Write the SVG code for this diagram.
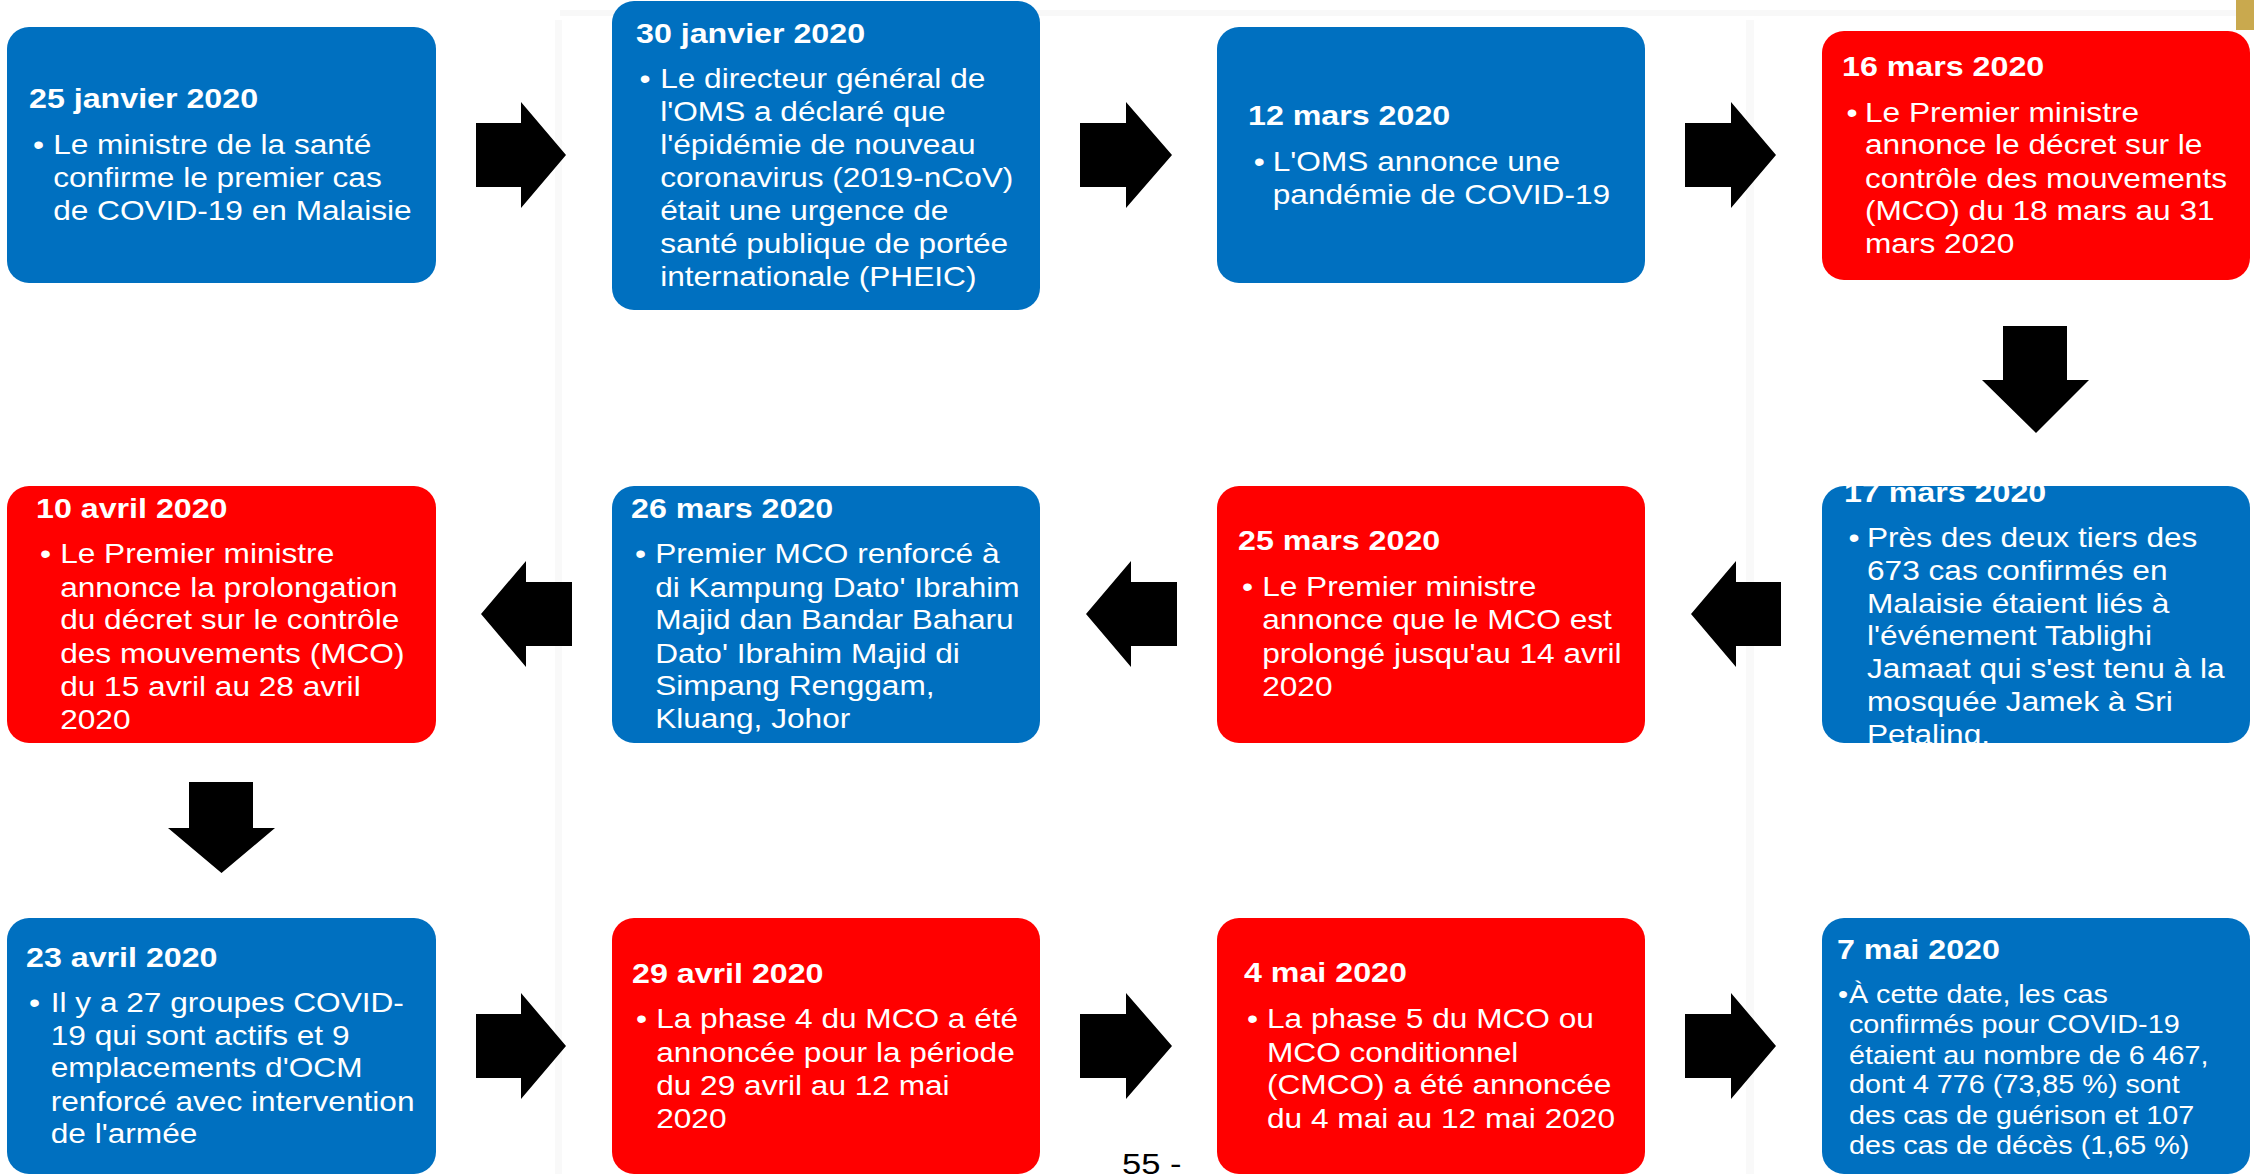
<svg xmlns="http://www.w3.org/2000/svg" width="2254" height="1174" viewBox="0 0 2254 1174">
<style>
.blue{fill:#0070C0}
.red{fill:#FF0000}
.t{font-family:"Liberation Sans",Arial,sans-serif;font-weight:bold;font-size:28px;fill:#fff}
.b{font-family:"Liberation Sans",Arial,sans-serif;font-size:27.5px;fill:#fff}
.s{font-family:"Liberation Sans",Arial,sans-serif;font-size:25px;fill:#fff}
.arrow{fill:#000}
.pg{font-family:"Liberation Sans",Arial,sans-serif;font-size:30px;fill:#000}
</style>
<rect x="0" y="0" width="2254" height="1174" fill="#fff"/>
<g id="background">
<rect x="555" y="20" width="7" height="1154" fill="#f9f9f9"/>
<rect x="1746" y="20" width="8" height="1154" fill="#f9f9f9"/>
<rect x="560" y="10" width="1680" height="6" fill="#f8f8f8"/>
<rect x="2236" y="0" width="18" height="30" fill="#c9a94e"/>
</g>

<g id="connectors">
<polygon class="arrow" points="476,123 521,123 521,102 566,155 521,208 521,187 476,187"/>
<polygon class="arrow" points="1080,123 1126,123 1126,102 1172,155 1126,208 1126,187 1080,187"/>
<polygon class="arrow" points="1685,123 1731,123 1731,102 1776,155 1731,208 1731,187 1685,187"/>
<polygon class="arrow" points="2003,326 2067,326 2067,380 2089,380 2036,433 1982,380 2003,380"/>
<polygon class="arrow" points="1781,582 1736,582 1736,561 1691,614 1736,667 1736,646 1781,646"/>
<polygon class="arrow" points="1177,582 1131,582 1131,561 1086,614 1131,667 1131,646 1177,646"/>
<polygon class="arrow" points="572,582 526,582 526,561 481,614 526,667 526,646 572,646"/>
<polygon class="arrow" points="189,782 253,782 253,828 275,828 221.5,873 168,828 189,828"/>
<polygon class="arrow" points="476,1014 521,1014 521,993 566,1046 521,1099 521,1078 476,1078"/>
<polygon class="arrow" points="1080,1014 1126,1014 1126,993 1172,1046 1126,1099 1126,1078 1080,1078"/>
<polygon class="arrow" points="1685,1014 1731,1014 1731,993 1776,1046 1731,1099 1731,1078 1685,1078"/>
</g>

<g id="n1">
<rect class="blue" x="7" y="27" width="429" height="256" rx="22"/>
<g transform="translate(29,0) scale(1.15,1)">
<text class="t" x="0" y="108">25 janvier 2020</text>
<text class="b" x="3.5" y="154">•</text>
<text class="b" x="21" y="154">Le ministre de la santé</text>
<text class="b" x="21" y="187">confirme le premier cas</text>
<text class="b" x="21" y="220">de COVID-19 en Malaisie</text>
</g>
</g>

<g id="n2">
<rect class="blue" x="612" y="1" width="428" height="309" rx="22"/>
<g transform="translate(636,0) scale(1.15,1)">
<text class="t" x="0" y="43">30 janvier 2020</text>
<text class="b" x="3" y="88">•</text>
<text class="b" x="21" y="88">Le directeur général de</text>
<text class="b" x="21" y="121">l'OMS a déclaré que</text>
<text class="b" x="21" y="154">l'épidémie de nouveau</text>
<text class="b" x="21" y="187">coronavirus (2019-nCoV)</text>
<text class="b" x="21" y="220">était une urgence de</text>
<text class="b" x="21" y="253">santé publique de portée</text>
<text class="b" x="21" y="286">internationale (PHEIC)</text>
</g>
</g>

<g id="n3">
<rect class="blue" x="1217" y="27" width="428" height="256" rx="22"/>
<g transform="translate(1248,0) scale(1.15,1)">
<text class="t" x="0" y="125">12 mars 2020</text>
<text class="b" x="5" y="171">•</text>
<text class="b" x="21.5" y="171">L'OMS annonce une</text>
<text class="b" x="21.5" y="204">pandémie de COVID-19</text>
</g>
</g>

<g id="n4">
<rect class="red" x="1822" y="31" width="428" height="249" rx="22"/>
<g transform="translate(1842,0) scale(1.15,1)">
<text class="t" x="0" y="76">16 mars 2020</text>
<text class="b" x="4" y="122">•</text>
<text class="b" x="20" y="122">Le Premier ministre</text>
<text class="b" x="20" y="154">annonce le décret sur le</text>
<text class="b" x="20" y="188">contrôle des mouvements</text>
<text class="b" x="20" y="220">(MCO) du 18 mars au 31</text>
<text class="b" x="20" y="253">mars 2020</text>
</g>
</g>

<g id="n5">
<rect class="blue" x="1822" y="486" width="428" height="257" rx="22"/>
<g transform="translate(1844,0) scale(1.15,1)">
<text class="t" x="0" y="502">17 mars 2020</text>
<text class="b" x="4" y="547">•</text>
<text class="b" x="20" y="547">Près des deux tiers des</text>
<text class="b" x="20" y="580">673 cas confirmés en</text>
<text class="b" x="20" y="613">Malaisie étaient liés à</text>
<text class="b" x="20" y="645">l'événement Tablighi</text>
<text class="b" x="20" y="678">Jamaat qui s'est tenu à la</text>
<text class="b" x="20" y="711">mosquée Jamek à Sri</text>
<text class="b" x="20" y="744">Petaling.</text>
</g>
</g>

<g id="n6">
<rect class="red" x="1217" y="486" width="428" height="257" rx="22"/>
<g transform="translate(1238,0) scale(1.15,1)">
<text class="t" x="0" y="550">25 mars 2020</text>
<text class="b" x="3.5" y="596">•</text>
<text class="b" x="21" y="596">Le Premier ministre</text>
<text class="b" x="21" y="629">annonce que le MCO est</text>
<text class="b" x="21" y="663">prolongé jusqu'au 14 avril</text>
<text class="b" x="21" y="696">2020</text>
</g>
</g>

<g id="n7">
<rect class="blue" x="612" y="486" width="428" height="257" rx="22"/>
<g transform="translate(631,0) scale(1.15,1)">
<text class="t" x="0" y="518">26 mars 2020</text>
<text class="b" x="3.5" y="563">•</text>
<text class="b" x="21" y="563">Premier MCO renforcé à</text>
<text class="b" x="21" y="597">di Kampung Dato' Ibrahim</text>
<text class="b" x="21" y="629">Majid dan Bandar Baharu</text>
<text class="b" x="21" y="663">Dato' Ibrahim Majid di</text>
<text class="b" x="21" y="695">Simpang Renggam,</text>
<text class="b" x="21" y="728">Kluang, Johor</text>
</g>
</g>

<g id="n8">
<rect class="red" x="7" y="486" width="429" height="257" rx="22"/>
<g transform="translate(36,0) scale(1.15,1)">
<text class="t" x="0" y="518">10 avril 2020</text>
<text class="b" x="3.5" y="563">•</text>
<text class="b" x="21" y="563">Le Premier ministre</text>
<text class="b" x="21" y="597">annonce la prolongation</text>
<text class="b" x="21" y="629">du décret sur le contrôle</text>
<text class="b" x="21" y="663">des mouvements (MCO)</text>
<text class="b" x="21" y="696">du 15 avril au 28 avril</text>
<text class="b" x="21" y="729">2020</text>
</g>
</g>

<g id="n9">
<rect class="blue" x="7" y="918" width="429" height="256" rx="22"/>
<g transform="translate(26,0) scale(1.15,1)">
<text class="t" x="0" y="967">23 avril 2020</text>
<text class="b" x="2.6" y="1012">•</text>
<text class="b" x="21.5" y="1012">Il y a 27 groupes COVID-</text>
<text class="b" x="21.5" y="1045">19 qui sont actifs et 9</text>
<text class="b" x="21.5" y="1077">emplacements d'OCM</text>
<text class="b" x="21.5" y="1111">renforcé avec intervention</text>
<text class="b" x="21.5" y="1143">de l'armée</text>
</g>
</g>

<g id="n10">
<rect class="red" x="612" y="918" width="428" height="256" rx="22"/>
<g transform="translate(632,0) scale(1.15,1)">
<text class="t" x="0" y="983">29 avril 2020</text>
<text class="b" x="3.5" y="1028">•</text>
<text class="b" x="21" y="1028">La phase 4 du MCO a été</text>
<text class="b" x="21" y="1062">annoncée pour la période</text>
<text class="b" x="21" y="1095">du 29 avril au 12 mai</text>
<text class="b" x="21" y="1128">2020</text>
</g>
</g>

<g id="n11">
<rect class="red" x="1217" y="918" width="428" height="256" rx="22"/>
<g transform="translate(1244,0) scale(1.15,1)">
<text class="t" x="0" y="982">4 mai 2020</text>
<text class="b" x="2.6" y="1028">•</text>
<text class="b" x="20" y="1028">La phase 5 du MCO ou</text>
<text class="b" x="20" y="1062">MCO conditionnel</text>
<text class="b" x="20" y="1094">(CMCO) a été annoncée</text>
<text class="b" x="20" y="1128">du 4 mai au 12 mai 2020</text>
</g>
</g>

<g id="n12">
<rect class="blue" x="1822" y="918" width="428" height="256" rx="22"/>
<g transform="translate(1837,0) scale(1.15,1)">
<text class="t" x="0" y="959">7 mai 2020</text>
<text class="s" x="0.9" y="1003">•</text>
<text class="s" x="10.4" y="1003">À cette date, les cas</text>
<text class="s" x="10.4" y="1033">confirmés pour COVID-19</text>
<text class="s" x="10.4" y="1064">étaient au nombre de 6 467,</text>
<text class="s" x="10.4" y="1093">dont 4 776 (73,85 %) sont</text>
<text class="s" x="10.4" y="1124">des cas de guérison et 107</text>
<text class="s" x="10.4" y="1154">des cas de décès (1,65 %)</text>
</g>
</g>

<g id="page-number" transform="translate(1122,0) scale(1.15,1)">
<text class="pg" x="0" y="1174">55 -</text>
</g>
</svg>
